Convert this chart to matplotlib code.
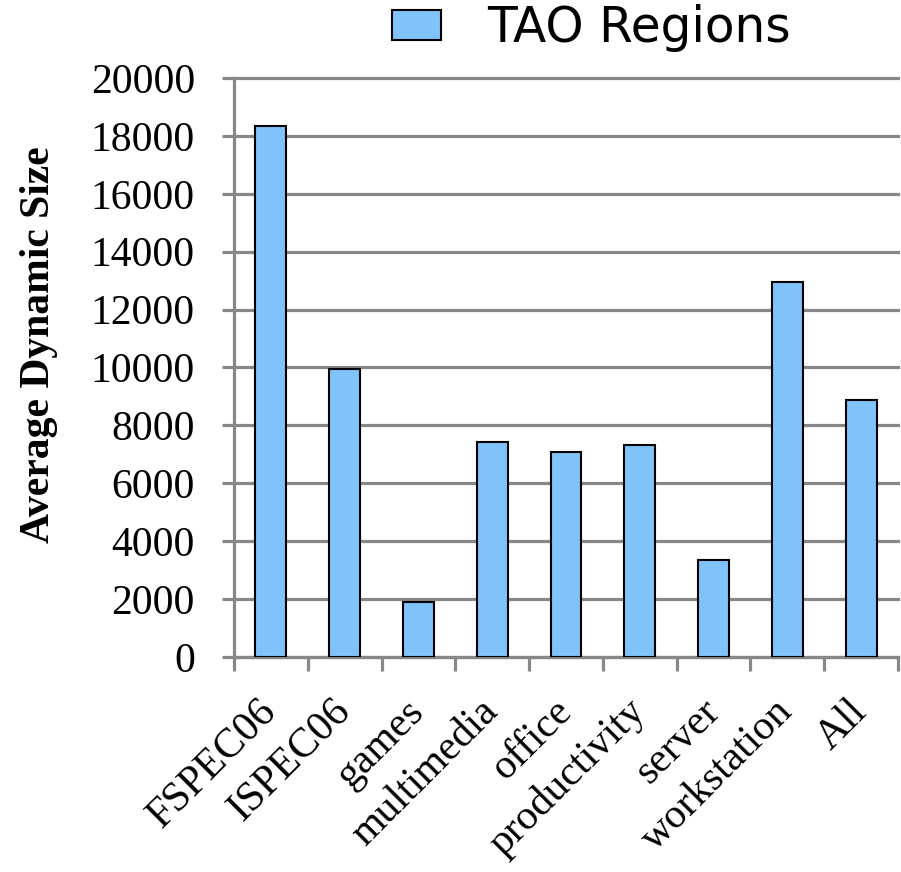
import matplotlib.pyplot as plt
import numpy as np

# data
categories = ['FSPEC06', 'ISPEC06', 'games', 'multimedia', 'office',
              'productivity', 'server', 'workstation', 'All']
tao_regions = [18330, 9960, 1890, 7420, 7070, 7330, 3350, 12950, 8870]
yticks = [0, 2000, 4000, 6000, 8000, 10000, 12000, 14000, 16000, 18000, 20000]

grey = '#878787'
bar_col = '#80C2FA'

fig = plt.figure(figsize=(9.01, 8.72), dpi=100)
ax = fig.add_axes([234 / 901, (872 - 657) / 872, (898 - 234) / 901, (657 - 78) / 872])

x = np.arange(len(categories))
ax.bar(x, tao_regions, width=0.42, color=bar_col, edgecolor='black',
       linewidth=1.5, label='TAO Regions', zorder=3)

ax.set_xlim(-0.5, len(categories) - 0.5)
ax.set_ylim(0, 20000)
ax.set_yticks(yticks)
ax.set_yticklabels([str(v) for v in yticks], family='Liberation Serif', fontsize=30)
ax.yaxis.grid(True, color=grey, linewidth=2.3, zorder=0)
for gl in ax.get_ygridlines():
    gl.set_clip_on(False)
ax.set_axisbelow(True)

# category boundaries carry the ticks on x
ax.set_xticks(np.arange(len(categories) + 1) - 0.5)
ax.set_xticklabels([])
ax.set_xticks(x, minor=True)
ax.set_xticklabels(categories, minor=True, family='Liberation Serif', fontsize=30,
                   rotation=45, ha='right', va='center', rotation_mode='anchor')
ax.tick_params(axis='x', which='minor', length=0, pad=35)
ax.tick_params(axis='x', which='major', length=10, width=2.3, color=grey)
ax.tick_params(axis='y', length=8.6, width=2.3, color=grey, pad=19.5)

for s in ['top', 'right']:
    ax.spines[s].set_visible(False)
for s in ['left', 'bottom']:
    ax.spines[s].set_color(grey)
    ax.spines[s].set_linewidth(2.3)

ax.set_ylabel('Average Dynamic Size', family='Liberation Serif', fontweight='bold',
              fontsize=30)
ax.yaxis.set_label_coords(-0.265, 0.54)

fig.legend(loc='upper left', bbox_to_anchor=(392 / 901, 1 - 4 / 872), frameon=False,
           prop={'family': 'DejaVu Sans', 'size': 35}, handlelength=1.0,
           handleheight=0.58, handletextpad=0.95, borderpad=0, borderaxespad=0)

fig.savefig('out.png', dpi=100)
